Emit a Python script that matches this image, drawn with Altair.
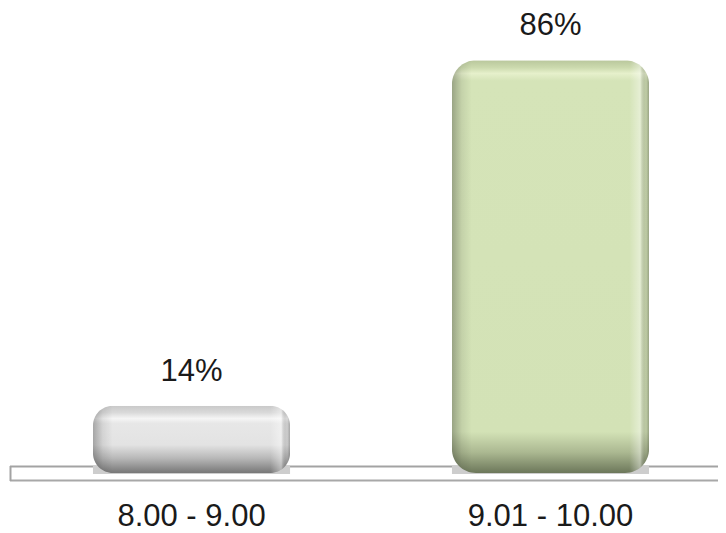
import altair as alt
import pandas as pd

categories = ["8.00 - 9.00", "9.01 - 10.00"]
values = [14, 86]

df = pd.DataFrame({"range": categories, "pct": values})

W, H = 710, 465
xscale = alt.Scale(domain=categories, paddingInner=0.451, paddingOuter=0.2144, align=0.552)
yscale = alt.Scale(domain=[0, 96.875], nice=False, zero=True)

xenc = alt.X("range:N", scale=xscale, sort=categories,
             axis=alt.Axis(title=None, domain=False, ticks=False, tickSize=0, grid=False,
                           labelAngle=0, labelFontSize=31, labelFont="Liberation Sans",
                           labelColor="#1a1a1a", labelPadding=52, labelBaseline="alphabetic"))

base = alt.Chart(df)
one = base.transform_filter(alt.datum.range == categories[0])

floor_fill = one.mark_rect(fill="#ffffff").encode(
    x=alt.value(2), x2=alt.value(W), y=alt.value(458), y2=alt.value(473))
floor_top = one.mark_rule(color="#a3a3a3", strokeWidth=2).encode(
    x=alt.value(2), x2=alt.value(W), y=alt.value(458.5))
floor_bot = one.mark_rule(color="#a8a8a8", strokeWidth=2).encode(
    x=alt.value(2), x2=alt.value(W), y=alt.value(472.5))
floor_left = one.mark_rule(color="#a3a3a3", strokeWidth=2).encode(
    x=alt.value(2.5), y=alt.value(458), y2=alt.value(473))

shadow = base.mark_bar(color="#cdcdcd").encode(
    x=xenc,
    y=alt.Y("lo:Q", scale=yscale, axis=None),
    y2="hi:Q",
).transform_calculate(lo="-0.2", hi="1.5")


def vgrad(stops):
    return alt.Gradient(gradient="linear", x1=0, x2=0, y1=0, y2=1,
                        stops=[alt.GradientStop(offset=o, color=c) for o, c in stops])


grey_grad = vgrad([(0, "#c9c9c9"), (0.1, "#d9d9d9"), (0.19, "#f5f5f5"), (0.26, "#e7e7e7"),
                   (0.58, "#e3e3e3"), (0.78, "#b8b8b8"), (1, "#777777")])
green_grad = vgrad([(0, "#b9c79c"), (0.018, "#ccdaae"), (0.032, "#e6f0cb"), (0.05, "#d5e4b8"),
                    (0.9, "#d3e2b6"), (0.95, "#abb891"), (1, "#6c775a")])
side_grad = alt.Gradient(gradient="linear", x1=0, x2=1, y1=0, y2=0, stops=[
    alt.GradientStop(offset=0, color="rgba(0,0,0,0.28)"),
    alt.GradientStop(offset=0.05, color="rgba(0,0,0,0.08)"),
    alt.GradientStop(offset=0.1, color="rgba(0,0,0,0)"),
    alt.GradientStop(offset=0.9, color="rgba(255,255,255,0)"),
    alt.GradientStop(offset=0.955, color="rgba(255,255,255,0.4)"),
    alt.GradientStop(offset=0.985, color="rgba(0,0,0,0.1)"),
    alt.GradientStop(offset=1, color="rgba(0,0,0,0.28)"),
])

yenc = alt.Y("pct:Q", scale=yscale, axis=None)

bar1 = base.mark_bar(color=grey_grad, cornerRadius=20).encode(x=xenc, y=yenc).transform_filter(
    alt.datum.range == categories[0])
bar2 = base.mark_bar(color=green_grad, cornerRadius=24).encode(x=xenc, y=yenc).transform_filter(
    alt.datum.range == categories[1])
side1 = base.mark_bar(color=side_grad, cornerRadius=20).encode(x=xenc, y=yenc).transform_filter(
    alt.datum.range == categories[0])
side2 = base.mark_bar(color=side_grad, cornerRadius=24).encode(x=xenc, y=yenc).transform_filter(
    alt.datum.range == categories[1])

labels = base.mark_text(fontSize=31, font="Liberation Sans", color="#1a1a1a",
                        baseline="alphabetic", dy=-25).encode(
    x=xenc, y=yenc, text="label:N"
).transform_calculate(label="datum.pct + '%'")

chart = alt.layer(floor_fill, floor_top, floor_bot, floor_left, shadow,
                  bar1, bar2, side1, side2, labels).properties(
    width=W, height=H,
    autosize=alt.AutoSizeParams(type="none"),
    padding={"left": 0, "top": 0, "right": 0, "bottom": 62},
).configure_view(stroke=None)

chart.save("out.html", embed_options={"renderer": "svg", "actions": False})
